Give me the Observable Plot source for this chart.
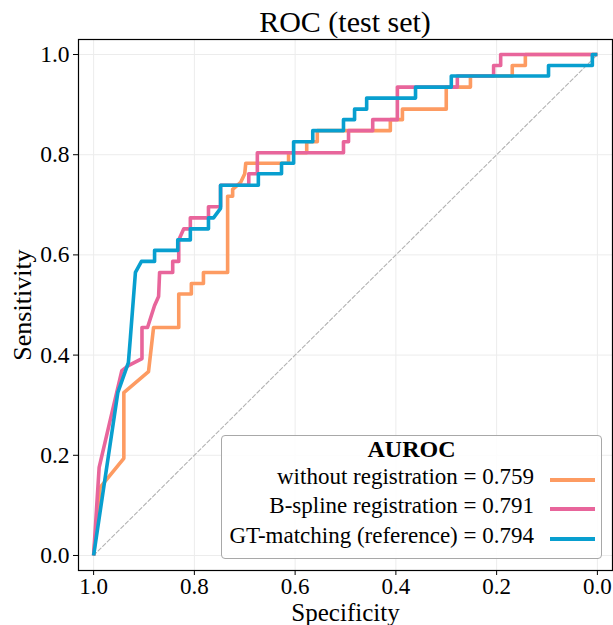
<!DOCTYPE html>
<html><head><meta charset="utf-8">
<script src="https://cdn.jsdelivr.net/npm/d3@7"></script>
<script src="https://cdn.jsdelivr.net/npm/@observablehq/plot@0.6"></script>
<style>
body{margin:0;background:#fff;}
#wrap{position:relative;width:613px;height:625px;font-family:"Liberation Serif",serif;color:#000;overflow:hidden}
#title{position:absolute;left:78px;width:534px;top:5px;text-align:center;font-size:30px;line-height:34px;}
#chart{position:absolute;left:0;top:36px}
#legend{position:absolute;left:221px;top:435px;width:381px;height:124px;border:1px solid #a8a8a8;border-radius:4px;background:rgba(255,255,255,0.85);box-sizing:border-box}
#legend .t{position:absolute;white-space:nowrap;font-size:23px;line-height:28px;height:28px}
#legend .h{left:0;width:100%;text-align:center;font-weight:bold;font-size:24px}
#legend .r{right:67px;text-align:right}
#legend .sw{position:absolute;left:328px;width:45px;height:4px}
</style></head>
<body><div id="wrap"><div id="title">ROC (test set)</div><div id="chart"></div><div id="legend"></div></div>
<script>
const seriesNames = ["without registration", "B-spline registration", "GT-matching (reference)"];
const aurocValues = ["0.759", "0.791", "0.794"];
const seriesColors = ["#fd9b62", "#e8659b", "#089fcf"];
const tickValues = [0, 0.2, 0.4, 0.6, 0.8, 1.0];

const specWithout = [1.000,0.987,0.940,0.940,0.891,0.881,0.831,0.831,0.806,0.806,0.782,0.782,0.734,0.734,0.724,0.724,0.708,0.700,0.698,0.613,0.613,0.577,0.577,0.556,0.556,0.411,0.411,0.387,0.387,0.300,0.300,0.252,0.252,0.169,0.169,0.143,0.143,0.000];
const sensWithout = [0.000,0.136,0.194,0.325,0.367,0.455,0.455,0.522,0.522,0.543,0.543,0.565,0.565,0.717,0.717,0.731,0.745,0.762,0.783,0.783,0.804,0.804,0.826,0.826,0.848,0.848,0.870,0.870,0.891,0.891,0.935,0.935,0.957,0.957,0.978,0.978,1.000,1.000];

const specBspline = [1.000,0.989,0.944,0.931,0.904,0.904,0.893,0.879,0.871,0.869,0.843,0.843,0.831,0.831,0.821,0.808,0.808,0.772,0.772,0.748,0.748,0.692,0.692,0.675,0.675,0.504,0.504,0.494,0.494,0.446,0.446,0.397,0.397,0.278,0.278,0.206,0.206,0.192,0.192,0.000];
const sensBspline = [0.000,0.176,0.369,0.379,0.393,0.455,0.455,0.499,0.517,0.565,0.565,0.587,0.587,0.630,0.652,0.652,0.674,0.674,0.696,0.696,0.739,0.739,0.762,0.762,0.804,0.804,0.826,0.826,0.848,0.848,0.870,0.870,0.935,0.935,0.957,0.957,0.978,0.978,1.000,1.000];

const specGT = [1.000,0.952,0.931,0.927,0.917,0.905,0.879,0.879,0.833,0.833,0.808,0.808,0.772,0.772,0.762,0.748,0.748,0.673,0.673,0.627,0.627,0.603,0.603,0.565,0.565,0.504,0.504,0.482,0.482,0.458,0.458,0.361,0.361,0.290,0.290,0.097,0.097,0.010,0.010,0.000];
const sensGT = [0.000,0.325,0.385,0.435,0.565,0.587,0.587,0.609,0.609,0.630,0.630,0.652,0.652,0.674,0.674,0.693,0.739,0.739,0.762,0.762,0.783,0.783,0.826,0.826,0.848,0.848,0.870,0.870,0.891,0.891,0.913,0.913,0.935,0.935,0.957,0.957,0.978,0.978,1.000,1.000];

const chanceSpec = [1, 0];
const chanceSens = [0, 1];

const specs = [specWithout, specBspline, specGT];
const senss = [sensWithout, sensBspline, sensGT];
const rows = [];
seriesNames.forEach((name, i) => specs[i].forEach((s, j) => rows.push({series: name, spec: s, sens: senss[i][j]})));
const chance = chanceSpec.map((s, i) => ({spec: s, sens: chanceSens[i]}));

const chart = Plot.plot({
  width: 613, height: 589,
  marginTop: 3, marginLeft: 78, marginRight: 1, marginBottom: 55,
  x: {domain: [1.03, -0.03]},
  y: {domain: [-0.03, 1.03]},
  color: {domain: seriesNames, range: seriesColors},
  style: {fontFamily: "Liberation Serif", fontSize: "24px", color: "#000", background: "transparent"},
  marks: [
    Plot.gridX(tickValues, {stroke: "#ececec", strokeOpacity: 1, strokeWidth: 1}),
    Plot.gridY(tickValues, {stroke: "#ececec", strokeOpacity: 1, strokeWidth: 1}),
    Plot.line(chance, {x: "spec", y: "sens", stroke: "#b3b3b3", strokeWidth: 1.1, strokeDasharray: "4,2.4"}),
    Plot.line(rows, {x: "spec", y: "sens", z: "series", stroke: "series", strokeWidth: 3.6, strokeLinejoin: "round", strokeLinecap: "butt"}),
    Plot.frame({stroke: "#000", strokeWidth: 1.2}),
    Plot.axisX(tickValues, {tickSize: 5, tickPadding: 2, tickFormat: d => d.toFixed(1), fontSize: 23, label: null}),
    Plot.axisY(tickValues, {tickSize: 5, tickPadding: 4, tickFormat: d => d.toFixed(1), fontSize: 23.5, label: null}),
    Plot.text(["Specificity"], {text: d => d, frameAnchor: "bottom", lineAnchor: "bottom", textAnchor: "middle", dy: 50, fontSize: 25}),
    Plot.text(["Sensitivity"], {text: d => d, frameAnchor: "left", textAnchor: "middle", lineAnchor: "middle", dx: -56, rotate: -90, fontSize: 26})
  ]
});
document.getElementById("chart").appendChild(chart);

const leg = document.getElementById("legend");
const head = document.createElement("div");
head.className = "t h"; head.textContent = "AUROC"; head.style.top = "-1px";
leg.appendChild(head);
const rowTops = [27, 56, 86];
const swTops = [42, 71, 101];
seriesNames.forEach((n, i) => {
  const t = document.createElement("div");
  t.className = "t r"; t.textContent = n + " = " + aurocValues[i]; t.style.top = rowTops[i] + "px";
  leg.appendChild(t);
  const s = document.createElement("div");
  s.className = "sw"; s.style.top = swTops[i] + "px"; s.style.background = seriesColors[i];
  leg.appendChild(s);
});
</script></body></html>
